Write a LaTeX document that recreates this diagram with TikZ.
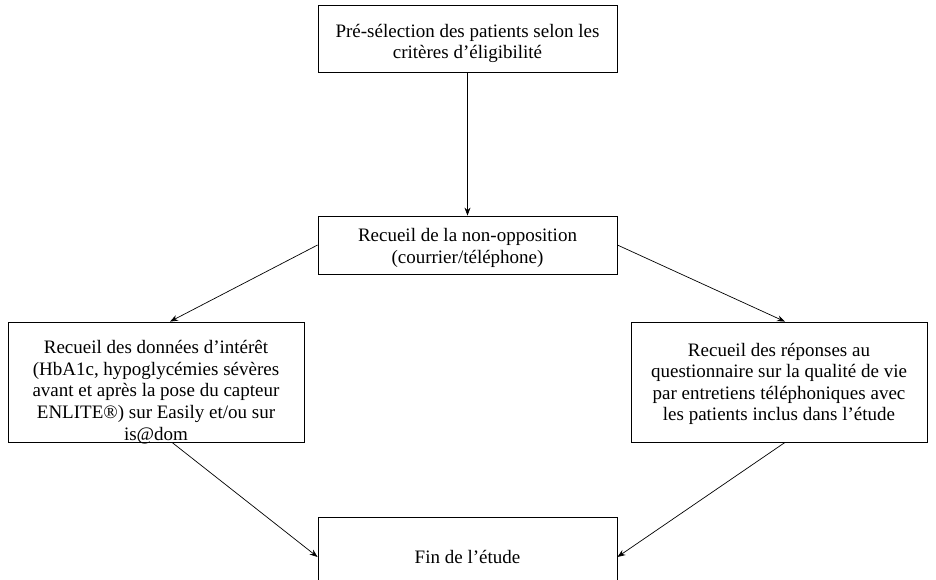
\documentclass[tikz,border=0pt]{standalone}
\usepackage{fontspec}
\setmainfont{Liberation Serif}
\usetikzlibrary{arrows.meta}

\tikzset{
  box/.style={draw, line width=0.8pt, align=center, inner sep=0pt,
    font=\fontsize{19}{21.8}\selectfont},
  boxtext/.style={align=center, inner sep=0pt, draw=none,
    font=\fontsize{19}{21.6}\selectfont},
  arr/.style={-{Stealth[length=8pt,width=6pt]}, line width=0.7pt}
}

\begin{document}
\begin{tikzpicture}[x=1pt,y=-1pt]
  \useasboundingbox (0,0) rectangle (936,580);

  \node[box, minimum width=299pt, minimum height=67pt,
    label={[boxtext, yshift=-5pt]center:{Pré-sélection des patients selon les\\critères d’éligibilité}}]
    (presel) at (467.5,38.5) {};
  \node[box, minimum width=299pt, minimum height=58pt,
    label={[boxtext, yshift=-3pt]center:{Recueil de la non-opposition\\(courrier/téléphone)}}]
    (nonopp) at (467.5,245) {};
  \node[box, minimum width=296pt, minimum height=120pt,
    label={[boxtext, yshift=-10pt]center:{Recueil des données d’intérêt\\(HbA1c, hypoglycémies sévères\\avant et après la pose du capteur\\ENLITE®) sur Easily et/ou sur\\is@dom}}]
    (donnees) at (156,382) {};
  \node[box, minimum width=296pt, minimum height=120pt,
    label={[boxtext, yshift=-2pt]center:{Recueil des réponses au\\questionnaire sur la qualité de vie\\par entretiens téléphoniques avec\\les patients inclus dans l’étude}}]
    (reponses) at (779,382) {};
  \node[box, minimum width=299pt, minimum height=80pt] (fin) at (467.5,557)
    {Fin de l’étude};

  \draw[arr] (presel) -- (nonopp);
  \draw[arr] (nonopp.west) -- ([xshift=14pt]donnees.north);
  \draw[arr] (nonopp.east) -- ([xshift=6pt]reponses.north);
  \draw[arr] ([xshift=16pt]donnees.south) -- (fin.west);
  \draw[arr] ([xshift=6pt]reponses.south) -- (fin.east);
\end{tikzpicture}
\end{document}
